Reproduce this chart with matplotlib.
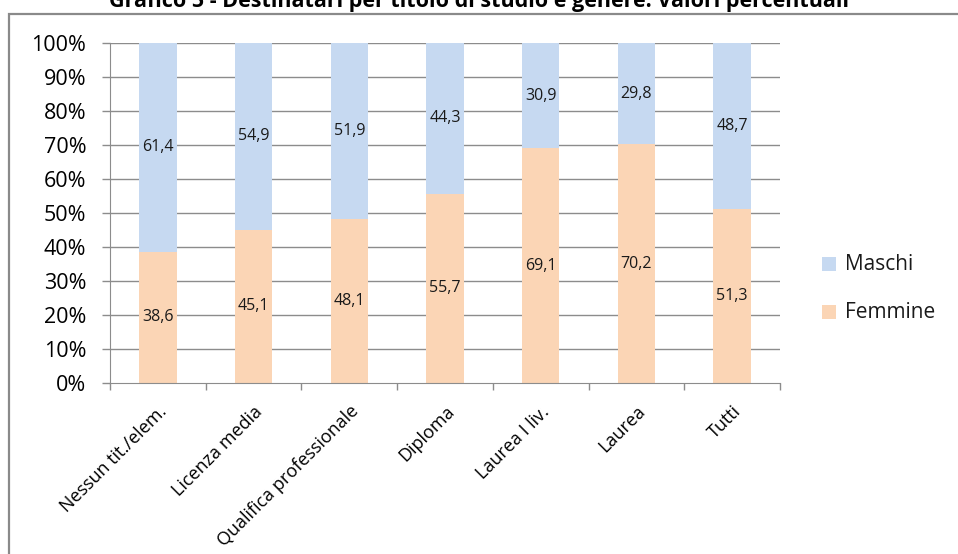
import matplotlib.pyplot as plt
from matplotlib.patches import Rectangle
import numpy as np

categories = ["Nessun tit./elem.", "Licenza media", "Qualifica professionale",
              "Diploma", "Laurea I liv.", "Laurea", "Tutti"]
femmine = [38.6, 45.1, 48.1, 55.7, 69.1, 70.2, 51.3]
maschi = [61.4, 54.9, 51.9, 44.3, 30.9, 29.8, 48.7]
yticks = [0, 10, 20, 30, 40, 50, 60, 70, 80, 90, 100]

col_m = "#C6D9F1"
col_f = "#FBD5B5"
grid_col = "#8C8C8C"
font = ["Open Sans", "DejaVu Sans"]

fig = plt.figure(figsize=(9.58, 5.54), dpi=100)

# outer chart frame
fig.patches.append(Rectangle((9 / 958, -0.05), 1.0, 1 - 14 / 554 + 0.05,
                             transform=fig.transFigure, fill=False,
                             edgecolor="#8A8A8A", linewidth=1.6))

fig.text(0.5, 1 - 1 / 554, "Grafico 5 - Destinatari per titolo di studio e genere. Valori percentuali",
         ha="center", va="center", fontsize=15.5, fontweight="bold", family=font)

ax = fig.add_axes([110 / 958, 1 - 383 / 554, (780 - 110) / 958, (383 - 43) / 554])
x = np.arange(len(categories))
w = 0.39
ax.bar(x, femmine, width=w, color=col_f, label="Femmine", zorder=2)
ax.bar(x, maschi, width=w, bottom=femmine, color=col_m, label="Maschi", zorder=2)

for xi, f, m in zip(x, femmine, maschi):
    ax.text(xi, f / 2, f"{f:.1f}".replace(".", ","), ha="center", va="center",
            fontsize=11.5, family=font, color="#1a1a1a", zorder=3)
    ax.text(xi, f + m / 2, f"{m:.1f}".replace(".", ","), ha="center", va="center",
            fontsize=11.5, family=font, color="#1a1a1a", zorder=3)

ax.set_xlim(-0.5, len(categories) - 0.5)
ax.set_ylim(0, 100)
ax.set_yticks(yticks)
ax.set_yticklabels([f"{v}%" for v in yticks], family=font, fontsize=15.5)
for v in yticks[1:]:
    ax.axhline(v, color=grid_col, linewidth=1, zorder=1)

ax.set_xticks(x)
ax.set_xticklabels(categories, rotation=45, ha="right", rotation_mode="anchor",
                   family=font, fontsize=13)
ax.tick_params(axis="x", length=0, pad=14)
# category boundary tick marks
ax.set_xticks(np.arange(len(categories) + 1) - 0.5, minor=True)
ax.tick_params(axis="x", which="minor", length=5, color=grid_col, width=1)
ax.tick_params(axis="y", length=6, color=grid_col, width=1, pad=11)

for s in ["top", "right"]:
    ax.spines[s].set_visible(False)
ax.spines["left"].set_color(grid_col)
ax.spines["bottom"].set_color(grid_col)

# legend: Maschi above Femmine
for label, color, yc in [("Maschi", col_m, 264), ("Femmine", col_f, 312)]:
    fig.patches.append(Rectangle((822 / 958, 1 - (yc + 7) / 554), 14 / 958, 14 / 554,
                                 transform=fig.transFigure, facecolor=color,
                                 edgecolor="none"))
    fig.text(845 / 958, 1 - yc / 554, label, ha="left", va="center",
             fontsize=15, family=font, color="#1a1a1a")

fig.savefig("out.png", dpi=100)
